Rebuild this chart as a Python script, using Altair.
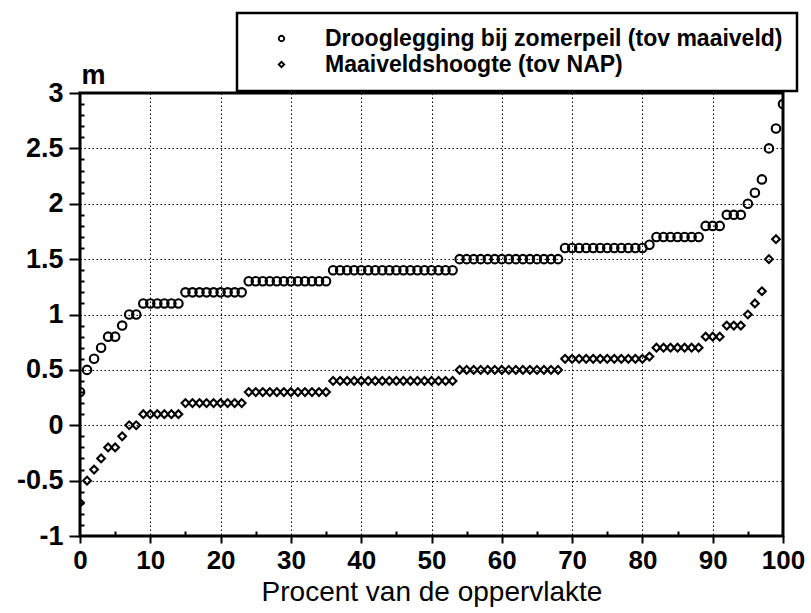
import altair as alt
import pandas as pd

# ---- data ----
procent_droog = list(range(0, 101))
drooglegging = [
    0.3, 0.5, 0.6, 0.7, 0.8, 0.8, 0.9, 1.0, 1.0,
    1.1, 1.1, 1.1, 1.1, 1.1, 1.1,
    1.2, 1.2, 1.2, 1.2, 1.2, 1.2, 1.2, 1.2, 1.2,
    1.3, 1.3, 1.3, 1.3, 1.3, 1.3, 1.3, 1.3, 1.3, 1.3, 1.3, 1.3,
    1.4, 1.4, 1.4, 1.4, 1.4, 1.4, 1.4, 1.4, 1.4, 1.4, 1.4, 1.4, 1.4, 1.4, 1.4, 1.4, 1.4, 1.4,
    1.5, 1.5, 1.5, 1.5, 1.5, 1.5, 1.5, 1.5, 1.5, 1.5, 1.5, 1.5, 1.5, 1.5, 1.5,
    1.6, 1.6, 1.6, 1.6, 1.6, 1.6, 1.6, 1.6, 1.6, 1.6, 1.6, 1.6,
    1.63,
    1.7, 1.7, 1.7, 1.7, 1.7, 1.7, 1.7,
    1.8, 1.8, 1.8,
    1.9, 1.9, 1.9,
    2.0, 2.1, 2.22, 2.5, 2.68, 2.9,
]

procent_maaiveld = list(range(0, 100))
maaiveld = [
    -0.7, -0.5, -0.4, -0.3, -0.2, -0.2, -0.1, 0.0, 0.0,
    0.1, 0.1, 0.1, 0.1, 0.1, 0.1,
    0.2, 0.2, 0.2, 0.2, 0.2, 0.2, 0.2, 0.2, 0.2,
    0.3, 0.3, 0.3, 0.3, 0.3, 0.3, 0.3, 0.3, 0.3, 0.3, 0.3, 0.3,
    0.4, 0.4, 0.4, 0.4, 0.4, 0.4, 0.4, 0.4, 0.4, 0.4, 0.4, 0.4, 0.4, 0.4, 0.4, 0.4, 0.4, 0.4,
    0.5, 0.5, 0.5, 0.5, 0.5, 0.5, 0.5, 0.5, 0.5, 0.5, 0.5, 0.5, 0.5, 0.5, 0.5,
    0.6, 0.6, 0.6, 0.6, 0.6, 0.6, 0.6, 0.6, 0.6, 0.6, 0.6, 0.6,
    0.62,
    0.7, 0.7, 0.7, 0.7, 0.7, 0.7, 0.7,
    0.8, 0.8, 0.8,
    0.9, 0.9, 0.9,
    1.0, 1.1, 1.21, 1.5, 1.68,
]

reeksen = ["Drooglegging bij zomerpeil (tov maaiveld)", "Maaiveldshoogte (tov NAP)"]

x_major = [0, 10, 20, 30, 40, 50, 60, 70, 80, 90, 100]
x_minor = [5, 15, 25, 35, 45, 55, 65, 75, 85, 95]
y_major = [-1, -0.5, 0, 0.5, 1, 1.5, 2, 2.5, 3]
y_minor = [-0.9, -0.8, -0.7, -0.6, -0.4, -0.3, -0.2, -0.1, 0.1, 0.2, 0.3, 0.4,
           0.6, 0.7, 0.8, 0.9, 1.1, 1.2, 1.3, 1.4, 1.6, 1.7, 1.8, 1.9,
           2.1, 2.2, 2.3, 2.4, 2.6, 2.7, 2.8, 2.9]

df = pd.concat([
    pd.DataFrame({"procent": procent_droog, "waarde": drooglegging, "reeks": reeksen[0]}),
    pd.DataFrame({"procent": procent_maaiveld, "waarde": maaiveld, "reeks": reeksen[1]}),
], ignore_index=True)

FONT = "Liberation Sans"

x_scale = alt.Scale(domain=[0, 100], nice=False, zero=False)
y_scale = alt.Scale(domain=[-1, 3], nice=False, zero=False)

x_axis = alt.Axis(
    orient="bottom", values=x_major, grid=True, gridColor="black", gridDash=[1.5, 2.5],
    gridOpacity=1, gridWidth=1, domain=False, tickSize=7, tickColor="black",
    tickWidth=2, labelFont=FONT, labelFontSize=26, labelFontWeight="bold",
    labelColor="black", labelPadding=4, labelFlush=False,
    title="Procent van de oppervlakte", titleFont=FONT, titleFontSize=28,
    titleFontWeight="normal", titleColor="black", titlePadding=5)
y_axis = alt.Axis(
    orient="left", values=y_major, grid=True, gridColor="black", gridDash=[1.5, 2.5],
    gridOpacity=1, gridWidth=1, domain=False, tickSize=11, tickColor="black",
    tickWidth=2, labelFont=FONT, labelFontSize=27, labelFontWeight="bold",
    labelColor="black", labelPadding=6, labelFlush=False,
    labelExpr="datum.value + ''",
    title="m", titleAngle=0, titleAlign="left", titleBaseline="alphabetic",
    titleX=1, titleY=-10, titleFont=FONT, titleFontSize=27,
    titleFontWeight="bold", titleColor="black")

legend = alt.Legend(
    title=None, orient="none", legendX=157, legendY=-80,
    strokeColor="black", fillColor="white",
    padding=14, symbolOffset=19, labelOffset=32, rowPadding=2,
    labelFont=FONT, labelFontSize=23, labelFontWeight="bold",
    labelColor="black", labelLimit=700,
    symbolSize=30, symbolStrokeColor="black", symbolStrokeWidth=1.8,
    symbolFillColor="white")

shape_enc = alt.Shape("reeks:N", scale=alt.Scale(domain=reeksen, range=["circle", "diamond"]),
                      legend=legend)

base = alt.Chart(df)

circles = base.transform_filter(alt.datum.reeks == reeksen[0]).mark_point(
    filled=False, color="black", strokeWidth=2.1, opacity=1, clip=True, size=72
).encode(
    x=alt.X("procent:Q", scale=x_scale, axis=x_axis),
    y=alt.Y("waarde:Q", scale=y_scale, axis=y_axis),
    shape=shape_enc,
)

diamonds = base.transform_filter(alt.datum.reeks == reeksen[1]).mark_point(
    filled=False, color="black", strokeWidth=2.1, opacity=1, clip=True, size=60
).encode(
    x=alt.X("procent:Q", scale=x_scale, axis=x_axis),
    y=alt.Y("waarde:Q", scale=y_scale, axis=y_axis),
    shape=shape_enc,
)

minor = base.mark_point(opacity=0).encode(
    x=alt.X("procent:Q", scale=x_scale, axis=alt.Axis(
        orient="bottom", values=x_minor, grid=False, domain=False, labels=False,
        tickSize=5, offset=-5, tickColor="black", tickWidth=2, title=None)),
    y=alt.Y("waarde:Q", scale=y_scale, axis=alt.Axis(
        orient="left", values=y_minor, grid=False, domain=False, labels=False,
        tickSize=4, offset=-4, tickColor="black", tickWidth=2, title=None)),
)

main = alt.layer(circles, diamonds)

chart = alt.layer(main, minor).resolve_axis(x="independent", y="independent").properties(
    width=703, height=443,
    autosize=alt.AutoSizeParams(type="none"),
    padding={"left": 80, "top": 93, "right": 28, "bottom": 77},
    background="white",
).configure_view(stroke="black", strokeWidth=3).configure_legend(strokeWidth=2.5)

chart.save("out.html", embed_options={"renderer": "svg", "actions": False})
